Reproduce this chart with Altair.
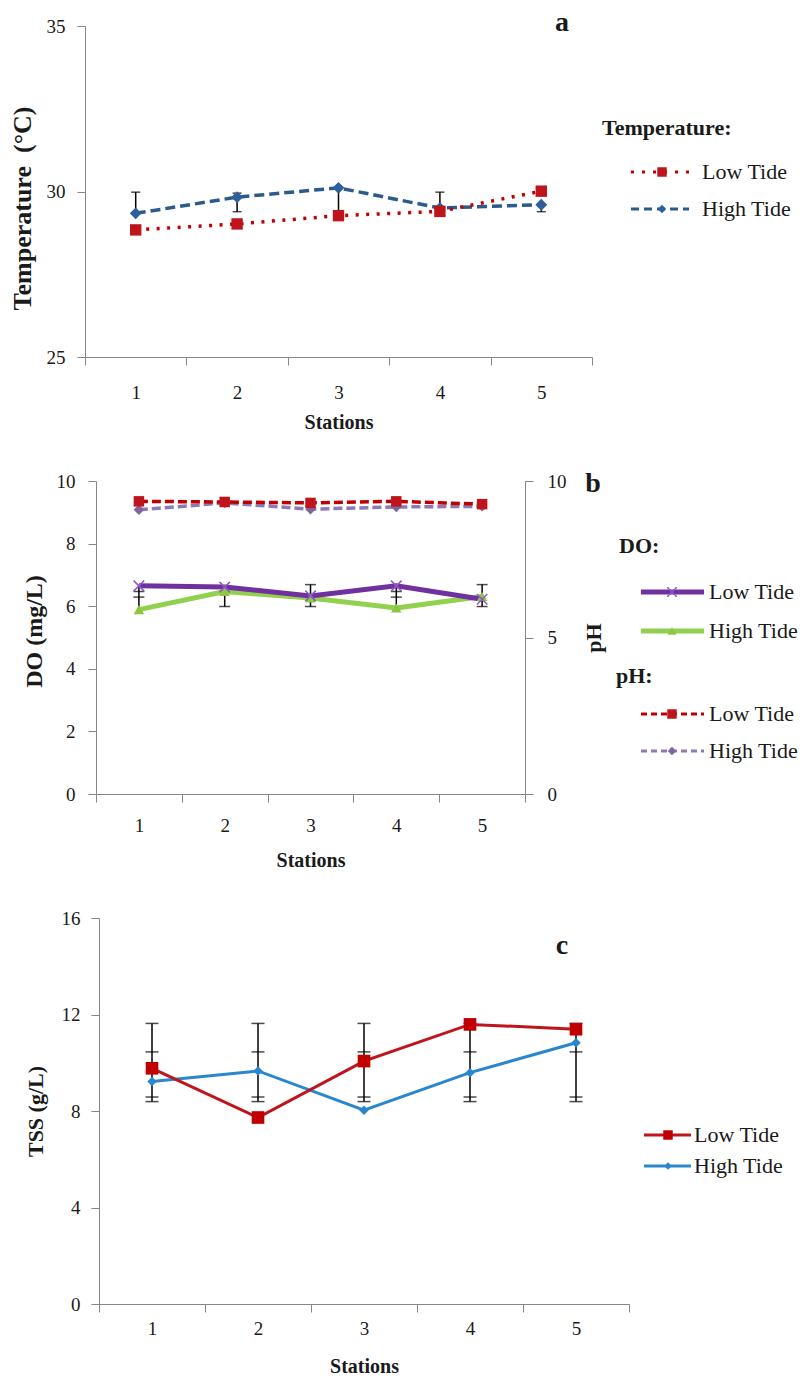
import altair as alt
import pandas as pd

FONT = "Liberation Serif"
GRAY = "#868686"
TXT = "#1a1a1a"

stations = [1, 2, 3, 4, 5]

# Panel a: temperature
temp_low = [28.84, 29.02, 29.27, 29.40, 30.01]
temp_high = [29.34, 29.83, 30.11, 29.50, 29.60]
temp_err_lo = [29.34, 29.39, 29.27, 29.50, 29.39]
temp_err_hi = [29.98, 29.95, 30.11, 29.98, 29.60]
temp_cap_station = [1, 2, 2, 4, 5]
temp_cap_value = [29.98, 29.95, 29.39, 29.98, 29.39]

# Panel b: DO and pH
do_low = [6.65, 6.61, 6.33, 6.65, 6.22]
do_high = [5.89, 6.47, 6.26, 5.94, 6.31]
ph_low = [9.35, 9.33, 9.30, 9.35, 9.26]
ph_high = [9.08, 9.30, 9.10, 9.17, 9.19]
do_err_lo = [5.89, 5.99, 5.99, 5.94, 5.99]
do_err_hi = [6.65, 6.61, 6.69, 6.65, 6.69]
do_cap_station = [1, 1, 2, 3, 3, 4, 4, 5, 5]
do_cap_value = [6.47, 6.29, 5.99, 6.69, 5.99, 6.47, 6.29, 6.69, 5.99]

# Panel c: TSS
tss_low = [9.77, 7.73, 10.07, 11.59, 11.39]
tss_high = [9.22, 9.66, 8.03, 9.59, 10.83]
tss_err_lo = [8.39, 8.39, 8.39, 8.39, 8.39]
tss_err_hi = [11.63, 11.63, 11.63, 11.63, 11.63]
tss_cap_station = [1, 1, 1, 1, 2, 2, 2, 2, 3, 3, 3, 3, 4, 4, 4, 4, 5, 5, 5, 5]
tss_cap_value = [11.63, 10.45, 8.58, 8.39, 11.63, 10.45, 8.58, 8.39,
                 11.63, 10.45, 8.58, 8.39, 11.63, 10.45, 8.58, 8.39,
                 11.63, 10.45, 8.58, 8.39]

one = pd.DataFrame({"k": [0]})
LBL = 19
LEG = 22


def x_axis(label_pad, title_pad):
    return alt.Axis(title="Stations", labelAngle=0, tickBand="extent", domainColor=GRAY,
                    tickColor=GRAY, tickSize=8, labelFont=FONT, labelFontSize=LBL,
                    labelColor=TXT, labelPadding=label_pad, titleFont=FONT,
                    titleFontSize=20, titleFontWeight="bold", titleColor=TXT,
                    titlePadding=title_pad, grid=False)


def xenc(axis, rng=None):
    if rng is not None:
        sc = alt.Scale(type="band", paddingInner=0, paddingOuter=0, domain=stations, range=rng)
    else:
        sc = alt.Scale(type="band", paddingInner=0, paddingOuter=0, domain=stations)
    return alt.X("station:O", scale=sc, bandPosition=0.5, axis=axis)


def y_axis(title, values, label_pad, title_pad, offset=0, orient="left", title_size=22, title_y=None):
    kw = dict(title=title, values=values, orient=orient, domainColor=GRAY, tickColor=GRAY,
              tickSize=8, labelFont=FONT, labelFontSize=LBL, labelColor=TXT,
              labelPadding=label_pad, titleFont=FONT, titleFontSize=title_size,
              titleFontWeight="bold", titleColor=TXT, titlePadding=title_pad,
              grid=False, format="d")
    if offset:
        kw["offset"] = offset
    if title_y is not None:
        kw["titleY"] = title_y
    if orient == "right":
        kw["titleAngle"] = 270
        kw["titleBaseline"] = "top"
    return alt.Axis(**kw)


def sdf(vals):
    return pd.DataFrame({"station": stations, "value": vals})


def line(vals, xe, ye, color, width, dash=None):
    kw = dict(color=color, strokeWidth=width)
    if dash:
        kw["strokeDash"] = dash
    return alt.Chart(sdf(vals)).mark_line(**kw).encode(x=xe, y=ye)


def pts(vals, xe, ye, color, shape, size, filled=True, sw=1):
    return alt.Chart(sdf(vals)).mark_point(shape=shape, size=size, filled=filled, color=color,
                                           opacity=1, strokeWidth=sw).encode(x=xe, y=ye)


def err_rules(lo, hi, xe, ylo):
    df = pd.DataFrame({"station": stations, "value": lo, "hi": hi})
    return alt.Chart(df).mark_rule(color="black", strokeWidth=1.5).encode(x=xe, y=ylo, y2="hi:Q")


def caps(st, vals, xe, ye, size):
    df = pd.DataFrame({"station": st, "value": vals})
    return alt.Chart(df).mark_tick(color="black", thickness=1.5, size=size).encode(x=xe, y=ye)


def text(label, x, y, size=LEG, bold=False, align="left"):
    kw = dict(font=FONT, fontSize=size, color=TXT, align=align, baseline="middle")
    if bold:
        kw["fontWeight"] = "bold"
    return alt.Chart(one).mark_text(**kw).encode(x=alt.value(x), y=alt.value(y), text=alt.value(label))


def legend_item(label, x0, x1, xm, xt, y, color, width, dash, shape, msize, mcolor, filled=True, sw=1):
    kw = dict(color=color, strokeWidth=width)
    if dash:
        kw["strokeDash"] = dash
    ln = alt.Chart(one).mark_rule(**kw).encode(x=alt.value(x0), x2=alt.value(x1), y=alt.value(y))
    pt = alt.Chart(one).mark_point(shape=shape, size=msize, filled=filled, color=mcolor, opacity=1,
                                   strokeWidth=sw).encode(x=alt.value(xm), y=alt.value(y))
    return [ln, pt, text(label, xt, y)]


XSHAPE = "M-1,-1L1,1M1,-1L-1,1"

# ---------------- Panel a ----------------
WA, HA = 507, 331
sc_a = alt.Scale(domain=[25, 35], nice=False, zero=False)
xa = xenc(x_axis(18, 10))
ya = alt.Y("value:Q", scale=sc_a,
           axis=y_axis("Temperature\u00a0\u00a0(°C)", [25, 30, 35], 12, 11, title_size=26, title_y=182))

layers_a = [
    err_rules(temp_err_lo, temp_err_hi, xa, ya),
    caps(temp_cap_station, temp_cap_value, xa, ya, 9),
    line(temp_high, xa, ya, "#2C5A8C", 3.5, [10, 5]),
    line(temp_low, xa, ya, "#C00000", 3.5, [3, 7.5]),
    pts(temp_high, xa, ya, "#2D5F9A", "diamond", 140),
    pts(temp_low, xa, ya, "#C0141C", "square", 130),
    text("Temperature:", 517, 102, bold=True),
    text("a", 477, -3, size=28, bold=True, align="center"),
]
layers_a += legend_item("Low Tide", 546, 604, 577, 617, 146, "#C00000", 3, [3, 8], "square", 90, "#C0141C")
layers_a += legend_item("High Tide", 546, 604, 577, 617, 183, "#2C5A8C", 3, [8, 5], "diamond", 70, "#2D5F9A")
panel_a = alt.layer(*layers_a).properties(width=WA, height=HA)

# ---------------- Panel b ----------------
WB, HB = 440, 313
sc_do = alt.Scale(domain=[0, 10], nice=False)
sc_ph = alt.Scale(domain=[0, 10], nice=False)
rng_b = [11, WB]
xb = xenc(x_axis(14, 15), rng_b)
ydo = alt.Y("value:Q", scale=sc_do,
            axis=y_axis("DO (mg/L)", [0, 2, 4, 6, 8, 10], 13, 10, offset=-11, title_size=24, title_y=150))
yph = alt.Y("value:Q", scale=sc_ph, axis=y_axis("pH", [0, 5, 10], 14, 17, orient="right"))

layers_do = [
    err_rules(do_err_lo, do_err_hi, xb, ydo),
    caps(do_cap_station, do_cap_value, xb, ydo, 11),
    line(do_high, xb, ydo, "#92D050", 5),
    line(do_low, xb, ydo, "#7030A0", 5),
    pts(do_high, xb, ydo, "#8DC63F", "triangle-up", 110),
    pts(do_low, xb, ydo, "#8B5BBF", XSHAPE, 110, filled=False, sw=1.5),
    text("DO:", 534, 65, bold=True),
    text("pH:", 531, 195, bold=True),
    text("b", 508, 3, size=28, bold=True, align="center"),
]
layers_do += legend_item("Low Tide", 556, 619, 587, 624, 111, "#7030A0", 5, None, XSHAPE, 90, "#8B5BBF", filled=False, sw=1.5)
layers_do += legend_item("High Tide", 556, 619, 587, 624, 150, "#92D050", 5, None, "triangle-up", 80, "#8DC63F")
layers_do += legend_item("Low Tide", 556, 619, 587, 624, 233, "#C00000", 3, [6, 4], "square", 90, "#C0141C")
layers_do += legend_item("High Tide", 556, 619, 587, 624, 270, "#8C7AB5", 3, [6, 4], "diamond", 70, "#8064A2")

layers_ph = [
    line(ph_high, xb, yph, "#8C7AB5", 3.5, [9, 4]),
    line(ph_low, xb, yph, "#C00000", 3.5, [9, 4]),
    pts(ph_high, xb, yph, "#8064A2", "diamond", 110),
    pts(ph_low, xb, yph, "#C0141C", "square", 110),
]
panel_b = alt.layer(alt.layer(*layers_do), alt.layer(*layers_ph)).resolve_scale(
    y="independent").properties(width=WB, height=HB)

# ---------------- Panel c ----------------
WC, HC = 544, 386
sc_c = alt.Scale(domain=[0, 16], nice=False)
rng_c = [14, WC]
xc = xenc(x_axis(7, 18), rng_c)
yc = alt.Y("value:Q", scale=sc_c,
           axis=y_axis("TSS (g/L)", [0, 4, 8, 12, 16], 11, 14, offset=-14))

layers_c = [
    err_rules(tss_err_lo, tss_err_hi, xc, yc),
    caps(tss_cap_station, tss_cap_value, xc, yc, 13),
    line(tss_high, xc, yc, "#2A87CE", 3),
    line(tss_low, xc, yc, "#C0141C", 3),
    pts(tss_high, xc, yc, "#2A87CE", "diamond", 90),
    pts(tss_low, xc, yc, "#C00000", "square", 160),
    text("c", 477, 28, size=28, bold=True, align="center"),
]
layers_c += legend_item("Low Tide", 559, 606, 583, 609, 217, "#C0141C", 3, None, "square", 90, "#C00000")
layers_c += legend_item("High Tide", 559, 606, 583, 609, 248, "#2A87CE", 3, None, "diamond", 60, "#2A87CE")
panel_c = alt.layer(*layers_c).properties(width=WC, height=HC)

chart = alt.vconcat(panel_a, panel_b, panel_c, spacing=124, bounds="flush").properties(
    padding={"left": 0, "top": 0, "right": 0, "bottom": 0}, background="white"
).configure_view(stroke="transparent")

chart.save("out.html", embed_options={"renderer": "svg", "actions": False})
